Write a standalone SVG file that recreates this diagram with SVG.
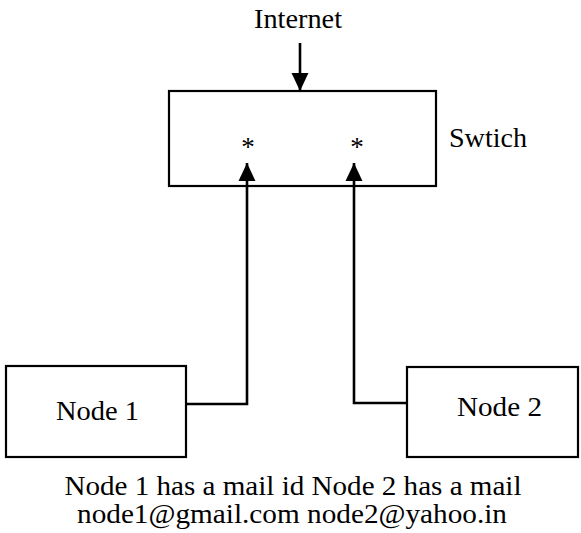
<svg xmlns="http://www.w3.org/2000/svg" width="581" height="533" viewBox="0 0 581 533">
<style>
.box{fill:#fff;stroke:#000;stroke-width:2.2}
.t{font-family:'Liberation Serif','Times New Roman',Times,'DejaVu Serif',serif;font-size:27px;fill:#000}
.c{text-anchor:middle}
.ln{fill:none;stroke:#000;stroke-width:2.6}
</style>
<defs>
<marker id="ah" markerUnits="userSpaceOnUse" markerWidth="18" markerHeight="18" viewBox="0 0 17 16" refX="17" refY="8" orient="auto">
<path d="M0,0 L17,8 L0,16 Z" fill="#000"/>
</marker>
</defs>
<rect width="581" height="533" fill="#fff"/>
<g id="internet">
<text class="t c" x="298" y="28" textLength="88" lengthAdjust="spacingAndGlyphs">Internet</text>
</g>
<g id="switch">
<rect class="box" x="169" y="91" width="267" height="95"/>
<text class="t c" x="248" y="156">*</text>
<text class="t c" x="357" y="156">*</text>
<text class="t" x="449" y="147" textLength="78" lengthAdjust="spacingAndGlyphs">Swtich</text>
</g>
<g id="node1">
<rect class="box" x="6" y="366" width="180" height="91"/>
<text class="t" x="56" y="420" textLength="83" lengthAdjust="spacingAndGlyphs">Node 1</text>
</g>
<g id="node2">
<rect class="box" x="407" y="367" width="171" height="90"/>
<text class="t" x="457" y="416" textLength="85" lengthAdjust="spacingAndGlyphs">Node 2</text>
</g>
<g id="connectors">
<path class="ln" d="M300,43 V91" marker-end="url(#ah)"/>
<path class="ln" d="M186,404 H247 V163" marker-end="url(#ah)"/>
<path class="ln" d="M407,403 H354 V163" marker-end="url(#ah)"/>
</g>
<g id="caption">
<text class="t c" x="293" y="495" textLength="457" lengthAdjust="spacingAndGlyphs">Node 1 has a mail id Node 2 has a mail</text>
<text class="t c" x="292" y="523" textLength="430" lengthAdjust="spacingAndGlyphs">node1@gmail.com node2@yahoo.in</text>
</g>
</svg>
